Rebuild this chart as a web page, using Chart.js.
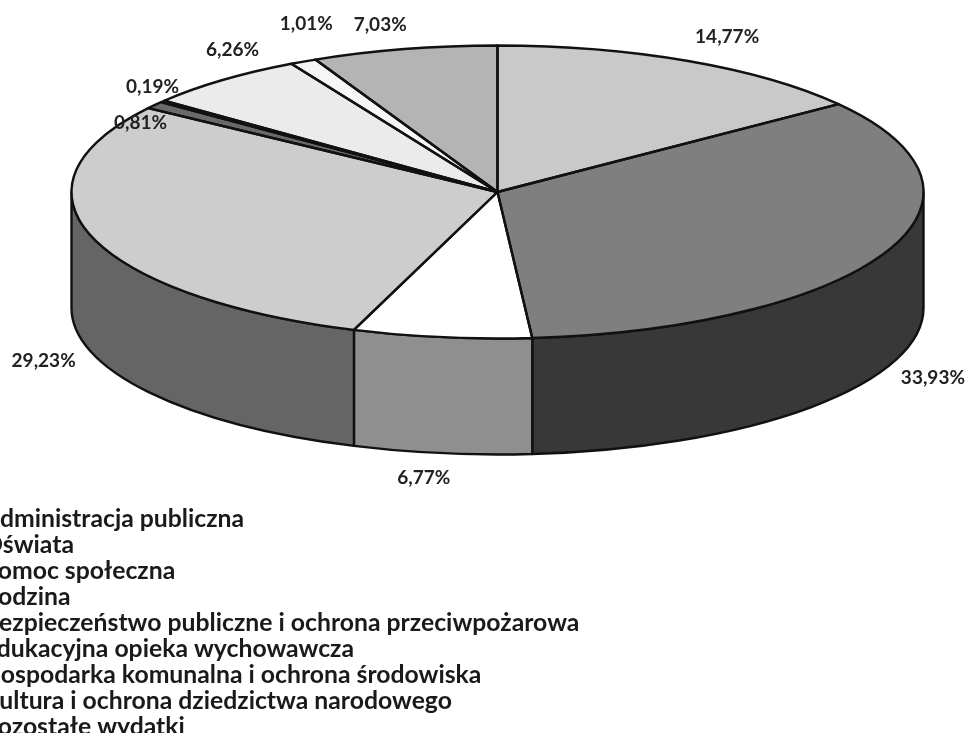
<!DOCTYPE html>
<html lang="pl">
<head>
<meta charset="utf-8">
<style>html,body{margin:0;padding:0;background:#fff;overflow:hidden}canvas{display:block}</style>
<script src="https://cdn.jsdelivr.net/npm/chart.js@4"></script>
</head>
<body>
<canvas id="c" width="967" height="733"></canvas>
<script>
const categories = [
  "Administracja publiczna",
  "Oświata",
  "Pomoc społeczna",
  "Rodzina",
  "Bezpieczeństwo publiczne i ochrona przeciwpożarowa",
  "Edukacyjna opieka wychowawcza",
  "Gospodarka komunalna i ochrona środowiska",
  "Kultura i ochrona dziedzictwa narodowego",
  "Pozostałe wydatki"
];
const values = [14.77, 33.93, 6.77, 29.23, 0.81, 0.19, 6.26, 1.01, 7.03];
const topColors = ["#c9c9c9", "#7f7f7f", "#ffffff", "#cdcdcd", "#6a6a6a", "#000000", "#ebebeb", "#f6f6f6", "#b4b4b4"];
const sideColors = ["#8a8a8a", "#383838", "#8f8f8f", "#656565", "#333333", "#000000", "#9a9a9a", "#a8a8a8", "#777777"];
const labelOffsets = [[39,-24],[47,126],[-18,141],[-48,124],[-14,18],[-10,-15],[10,-30],[3,-38],[-24,-24]];

const TILT = 146.5 / 426;
const DEPTH = 116;
const LEGEND_TEXT_X = -17;
const LEGEND_TOP = 507;
const LEGEND_FONT = 24.75;
const LEGEND_GAP = 1.15;
const LEGEND_BOX = 14;
const LINE_WIDTH = 2.4;

const pie3d = {
  id: 'pie3d',
  afterLayout(chart) {
    const l = chart.legend;
    l.left = LEGEND_TEXT_X - LEGEND_GAP - LEGEND_BOX - LEGEND_FONT / 2;
    l.top = LEGEND_TOP - LEGEND_GAP;
    l.bottom = l.top + 400;
    l.right = l.left + l.width;
  },
  beforeDatasetsDraw(chart) {
    const ctx = chart.ctx;
    const arcs = chart.getDatasetMeta(0).data;
    const cx = arcs[0].x, cy = arcs[0].y, r = arcs[0].outerRadius;
    ctx.save();
    ctx.lineWidth = LINE_WIDTH;
    ctx.strokeStyle = '#111';
    ctx.lineJoin = 'round';
    arcs.forEach((a, i) => {
      const s = Math.max(a.startAngle, 0), e = Math.min(a.endAngle, Math.PI);
      if (e <= s) return;
      ctx.beginPath();
      ctx.ellipse(cx, cy, r, r * TILT, 0, s, e);
      ctx.ellipse(cx, cy + DEPTH, r, r * TILT, 0, e, s, true);
      ctx.closePath();
      ctx.fillStyle = sideColors[i];
      ctx.fill();
      ctx.stroke();
    });
    ctx.restore();
    ctx.save();
    ctx.translate(cx, cy);
    ctx.scale(1, TILT);
    ctx.translate(-cx, -cy);
  },
  afterDatasetsDraw(chart) {
    const ctx = chart.ctx;
    ctx.restore();
    const arcs = chart.getDatasetMeta(0).data;
    const cx = arcs[0].x, cy = arcs[0].y, r = arcs[0].outerRadius;
    ctx.save();
    ctx.lineWidth = LINE_WIDTH;
    ctx.strokeStyle = '#111';
    ctx.lineJoin = 'round';
    arcs.forEach(a => {
      ctx.beginPath();
      ctx.moveTo(cx, cy);
      ctx.ellipse(cx, cy, r, r * TILT, 0, a.startAngle, a.endAngle);
      ctx.closePath();
      ctx.stroke();
    });
    ctx.fillStyle = '#222';
    ctx.font = 'bold 19px Lato';
    ctx.textAlign = 'center';
    ctx.textBaseline = 'middle';
    arcs.forEach((a, i) => {
      const m = (a.startAngle + a.endAngle) / 2;
      const x = cx + r * Math.cos(m) + labelOffsets[i][0];
      const y = cy + r * TILT * Math.sin(m) + labelOffsets[i][1];
      ctx.fillText(values[i].toFixed(2).replace('.', ',') + '%', x, y);
    });
    ctx.restore();
  }
};

new Chart(document.getElementById('c'), {
  type: 'pie',
  data: {
    labels: categories,
    datasets: [{ data: values, backgroundColor: topColors, borderWidth: 0 }]
  },
  options: {
    responsive: false,
    animation: false,
    radius: 426,
    layout: { padding: { left: 28, bottom: 349 } },
    plugins: {
      tooltip: { enabled: false },
      legend: {
        position: 'chartArea',
        align: 'start',
        labels: {
          boxWidth: LEGEND_BOX,
          boxHeight: LEGEND_BOX,
          padding: LEGEND_GAP,
          color: '#1a1a1a',
          font: { family: 'Lato', size: LEGEND_FONT, weight: 'bold' }
        }
      }
    }
  },
  plugins: [pie3d]
});
</script>
</body>
</html>
